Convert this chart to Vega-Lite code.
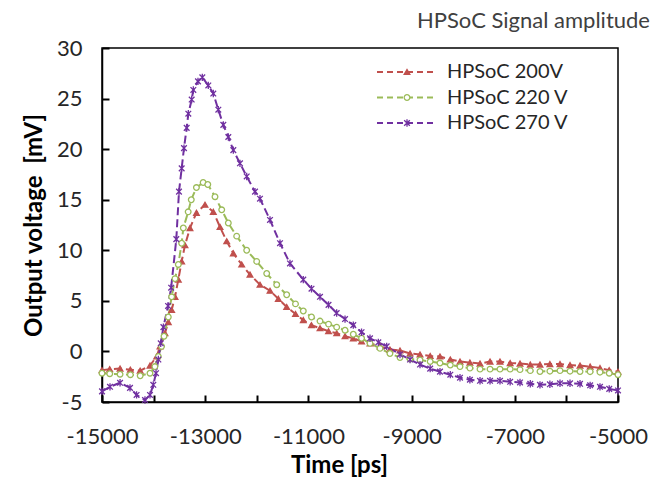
{
  "$schema": "https://vega.github.io/schema/vega-lite/v6.json",
  "autosize": "none",
  "width": 516,
  "height": 354,
  "padding": {"left": 102, "top": 48, "right": 38, "bottom": 80},
  "background": "white",
  "title": {"text": "HPSoC Signal amplitude", "anchor": "end", "frame": "group", "dx": 32, "offset": 4, "fontSize": 22, "font": "Lato", "fontWeight": "normal", "color": "#404040"},
  "config": {
    "view": {"stroke": "black", "strokeWidth": 1.5},
    "axis": {"grid": false, "domainColor": "black", "domainWidth": 1.5, "labelFont": "Lato", "labelFontSize": 22, "labelColor": "#262626", "titleFont": "Lato", "titleFontSize": 24, "titleFontWeight": "bold", "titleColor": "#000000"},
    "legend": {"labelFont": "Lato", "labelFontSize": 20, "labelColor": "#262626"}
  },
  "resolve": {"axis": {"x": "independent", "y": "independent"}},
  "data": {"values": [
    {"series":"HPSoC 200V","t":-15000,"v":-1.85},{"series":"HPSoC 200V","t":-14850,"v":-1.75},{"series":"HPSoC 200V","t":-14650,"v":-1.7},{"series":"HPSoC 200V","t":-14450,"v":-1.8},{"series":"HPSoC 200V","t":-14260,"v":-1.9},{"series":"HPSoC 200V","t":-14070,"v":-1.4},{"series":"HPSoC 200V","t":-13940,"v":-0.5},{"series":"HPSoC 200V","t":-13876,"v":0.5},{"series":"HPSoC 200V","t":-13780,"v":1.8},{"series":"HPSoC 200V","t":-13715,"v":2.9},{"series":"HPSoC 200V","t":-13650,"v":4.1},{"series":"HPSoC 200V","t":-13585,"v":5.4},{"series":"HPSoC 200V","t":-13521,"v":7.1},{"series":"HPSoC 200V","t":-13456,"v":8.9},{"series":"HPSoC 200V","t":-13392,"v":10.5},{"series":"HPSoC 200V","t":-13295,"v":12.2},{"series":"HPSoC 200V","t":-13170,"v":13.7},{"series":"HPSoC 200V","t":-13004,"v":14.5},{"series":"HPSoC 200V","t":-12843,"v":13.8},{"series":"HPSoC 200V","t":-12713,"v":12.3},{"series":"HPSoC 200V","t":-12583,"v":10.9},{"series":"HPSoC 200V","t":-12455,"v":9.7},{"series":"HPSoC 200V","t":-12293,"v":8.6},{"series":"HPSoC 200V","t":-12132,"v":7.6},{"series":"HPSoC 200V","t":-11938,"v":6.6},{"series":"HPSoC 200V","t":-11744,"v":6.0},{"series":"HPSoC 200V","t":-11583,"v":5.2},{"series":"HPSoC 200V","t":-11421,"v":4.4},{"series":"HPSoC 200V","t":-11250,"v":3.7},{"series":"HPSoC 200V","t":-11099,"v":3.1},{"series":"HPSoC 200V","t":-10940,"v":2.6},{"series":"HPSoC 200V","t":-10775,"v":2.3},{"series":"HPSoC 200V","t":-10610,"v":2.0},{"series":"HPSoC 200V","t":-10452,"v":1.8},{"series":"HPSoC 200V","t":-10290,"v":1.5},{"series":"HPSoC 200V","t":-10130,"v":1.3},{"series":"HPSoC 200V","t":-9970,"v":1.0},{"series":"HPSoC 200V","t":-9806,"v":0.8},{"series":"HPSoC 200V","t":-9612,"v":0.5},{"series":"HPSoC 200V","t":-9420,"v":0.2},{"series":"HPSoC 200V","t":-9225,"v":0.1},{"series":"HPSoC 200V","t":-9030,"v":-0.2},{"series":"HPSoC 200V","t":-8837,"v":-0.3},{"series":"HPSoC 200V","t":-8640,"v":-0.45},{"series":"HPSoC 200V","t":-8450,"v":-0.5},{"series":"HPSoC 200V","t":-8250,"v":-0.8},{"series":"HPSoC 200V","t":-8062,"v":-1.0},{"series":"HPSoC 200V","t":-7870,"v":-1.1},{"series":"HPSoC 200V","t":-7674,"v":-1.2},{"series":"HPSoC 200V","t":-7480,"v":-1.0},{"series":"HPSoC 200V","t":-7287,"v":-1.0},{"series":"HPSoC 200V","t":-7090,"v":-1.15},{"series":"HPSoC 200V","t":-6899,"v":-1.2},{"series":"HPSoC 200V","t":-6700,"v":-1.3},{"series":"HPSoC 200V","t":-6512,"v":-1.3},{"series":"HPSoC 200V","t":-6320,"v":-1.25},{"series":"HPSoC 200V","t":-6124,"v":-1.25},{"series":"HPSoC 200V","t":-5930,"v":-1.35},{"series":"HPSoC 200V","t":-5736,"v":-1.4},{"series":"HPSoC 200V","t":-5540,"v":-1.5},{"series":"HPSoC 200V","t":-5349,"v":-1.65},{"series":"HPSoC 200V","t":-5170,"v":-1.85},{"series":"HPSoC 200V","t":-5000,"v":-2.0},
    {"series":"HPSoC 220 V","t":-15000,"v":-2.15},{"series":"HPSoC 220 V","t":-14850,"v":-2.2},{"series":"HPSoC 220 V","t":-14650,"v":-2.25},{"series":"HPSoC 220 V","t":-14450,"v":-2.3},{"series":"HPSoC 220 V","t":-14260,"v":-2.4},{"series":"HPSoC 220 V","t":-14070,"v":-2.15},{"series":"HPSoC 220 V","t":-13975,"v":-1.5},{"series":"HPSoC 220 V","t":-13908,"v":-0.5},{"series":"HPSoC 220 V","t":-13845,"v":0.5},{"series":"HPSoC 220 V","t":-13798,"v":1.5},{"series":"HPSoC 220 V","t":-13715,"v":3.4},{"series":"HPSoC 220 V","t":-13650,"v":5.4},{"series":"HPSoC 220 V","t":-13585,"v":7.2},{"series":"HPSoC 220 V","t":-13521,"v":8.6},{"series":"HPSoC 220 V","t":-13456,"v":10.7},{"series":"HPSoC 220 V","t":-13424,"v":12.2},{"series":"HPSoC 220 V","t":-13330,"v":13.8},{"series":"HPSoC 220 V","t":-13270,"v":15.0},{"series":"HPSoC 220 V","t":-13170,"v":16.2},{"series":"HPSoC 220 V","t":-13040,"v":16.7},{"series":"HPSoC 220 V","t":-12950,"v":16.5},{"series":"HPSoC 220 V","t":-12810,"v":15.3},{"series":"HPSoC 220 V","t":-12680,"v":14.0},{"series":"HPSoC 220 V","t":-12552,"v":12.7},{"series":"HPSoC 220 V","t":-12390,"v":11.4},{"series":"HPSoC 220 V","t":-12196,"v":10.0},{"series":"HPSoC 220 V","t":-12002,"v":8.9},{"series":"HPSoC 220 V","t":-11808,"v":7.7},{"series":"HPSoC 220 V","t":-11614,"v":6.6},{"series":"HPSoC 220 V","t":-11421,"v":5.6},{"series":"HPSoC 220 V","t":-11250,"v":4.7},{"series":"HPSoC 220 V","t":-11099,"v":4.0},{"series":"HPSoC 220 V","t":-10940,"v":3.4},{"series":"HPSoC 220 V","t":-10775,"v":3.0},{"series":"HPSoC 220 V","t":-10610,"v":2.7},{"series":"HPSoC 220 V","t":-10452,"v":2.4},{"series":"HPSoC 220 V","t":-10290,"v":2.1},{"series":"HPSoC 220 V","t":-10130,"v":1.7},{"series":"HPSoC 220 V","t":-9970,"v":1.3},{"series":"HPSoC 220 V","t":-9806,"v":0.8},{"series":"HPSoC 220 V","t":-9612,"v":0.3},{"series":"HPSoC 220 V","t":-9420,"v":-0.2},{"series":"HPSoC 220 V","t":-9225,"v":-0.6},{"series":"HPSoC 220 V","t":-9030,"v":-0.75},{"series":"HPSoC 220 V","t":-8837,"v":-0.85},{"series":"HPSoC 220 V","t":-8640,"v":-1.0},{"series":"HPSoC 220 V","t":-8450,"v":-1.15},{"series":"HPSoC 220 V","t":-8250,"v":-1.35},{"series":"HPSoC 220 V","t":-8062,"v":-1.5},{"series":"HPSoC 220 V","t":-7870,"v":-1.65},{"series":"HPSoC 220 V","t":-7674,"v":-1.75},{"series":"HPSoC 220 V","t":-7480,"v":-1.75},{"series":"HPSoC 220 V","t":-7287,"v":-1.75},{"series":"HPSoC 220 V","t":-7090,"v":-1.75},{"series":"HPSoC 220 V","t":-6899,"v":-1.8},{"series":"HPSoC 220 V","t":-6700,"v":-1.9},{"series":"HPSoC 220 V","t":-6512,"v":-1.98},{"series":"HPSoC 220 V","t":-6320,"v":-1.95},{"series":"HPSoC 220 V","t":-6124,"v":-1.9},{"series":"HPSoC 220 V","t":-5930,"v":-1.95},{"series":"HPSoC 220 V","t":-5736,"v":-1.98},{"series":"HPSoC 220 V","t":-5540,"v":-2.0},{"series":"HPSoC 220 V","t":-5349,"v":-2.05},{"series":"HPSoC 220 V","t":-5170,"v":-2.15},{"series":"HPSoC 220 V","t":-5000,"v":-2.3},
    {"series":"HPSoC 270 V","t":-15000,"v":-3.95},{"series":"HPSoC 270 V","t":-14845,"v":-3.5},{"series":"HPSoC 270 V","t":-14650,"v":-3.1},{"series":"HPSoC 270 V","t":-14457,"v":-3.6},{"series":"HPSoC 270 V","t":-14330,"v":-4.3},{"series":"HPSoC 270 V","t":-14167,"v":-4.8},{"series":"HPSoC 270 V","t":-14070,"v":-4.3},{"series":"HPSoC 270 V","t":-14006,"v":-3.3},{"series":"HPSoC 270 V","t":-13953,"v":-2.15},{"series":"HPSoC 270 V","t":-13908,"v":-0.8},{"series":"HPSoC 270 V","t":-13862,"v":0.8},{"series":"HPSoC 270 V","t":-13810,"v":2.4},{"series":"HPSoC 270 V","t":-13720,"v":4.5},{"series":"HPSoC 270 V","t":-13660,"v":6.3},{"series":"HPSoC 270 V","t":-13560,"v":11.1},{"series":"HPSoC 270 V","t":-13508,"v":15.8},{"series":"HPSoC 270 V","t":-13456,"v":18.1},{"series":"HPSoC 270 V","t":-13411,"v":20.1},{"series":"HPSoC 270 V","t":-13359,"v":22.1},{"series":"HPSoC 270 V","t":-13327,"v":23.5},{"series":"HPSoC 270 V","t":-13262,"v":24.9},{"series":"HPSoC 270 V","t":-13230,"v":25.85},{"series":"HPSoC 270 V","t":-13140,"v":26.7},{"series":"HPSoC 270 V","t":-13056,"v":27.1},{"series":"HPSoC 270 V","t":-12940,"v":26.3},{"series":"HPSoC 270 V","t":-12843,"v":25.5},{"series":"HPSoC 270 V","t":-12746,"v":23.9},{"series":"HPSoC 270 V","t":-12649,"v":22.4},{"series":"HPSoC 270 V","t":-12552,"v":21.2},{"series":"HPSoC 270 V","t":-12455,"v":19.9},{"series":"HPSoC 270 V","t":-12326,"v":18.6},{"series":"HPSoC 270 V","t":-12196,"v":17.3},{"series":"HPSoC 270 V","t":-12035,"v":15.8},{"series":"HPSoC 270 V","t":-11938,"v":15.1},{"series":"HPSoC 270 V","t":-11744,"v":13.0},{"series":"HPSoC 270 V","t":-11550,"v":10.7},{"series":"HPSoC 270 V","t":-11357,"v":8.7},{"series":"HPSoC 270 V","t":-11099,"v":7.1},{"series":"HPSoC 270 V","t":-10940,"v":6.2},{"series":"HPSoC 270 V","t":-10775,"v":5.4},{"series":"HPSoC 270 V","t":-10610,"v":4.6},{"series":"HPSoC 270 V","t":-10452,"v":3.8},{"series":"HPSoC 270 V","t":-10290,"v":3.2},{"series":"HPSoC 270 V","t":-10130,"v":2.6},{"series":"HPSoC 270 V","t":-9970,"v":1.9},{"series":"HPSoC 270 V","t":-9806,"v":1.3},{"series":"HPSoC 270 V","t":-9645,"v":0.9},{"series":"HPSoC 270 V","t":-9483,"v":0.5},{"series":"HPSoC 270 V","t":-9225,"v":-0.3},{"series":"HPSoC 270 V","t":-9030,"v":-0.8},{"series":"HPSoC 270 V","t":-8837,"v":-1.3},{"series":"HPSoC 270 V","t":-8640,"v":-1.7},{"series":"HPSoC 270 V","t":-8450,"v":-2.0},{"series":"HPSoC 270 V","t":-8250,"v":-2.3},{"series":"HPSoC 270 V","t":-8062,"v":-2.6},{"series":"HPSoC 270 V","t":-7870,"v":-2.8},{"series":"HPSoC 270 V","t":-7674,"v":-2.9},{"series":"HPSoC 270 V","t":-7480,"v":-2.9},{"series":"HPSoC 270 V","t":-7287,"v":-2.9},{"series":"HPSoC 270 V","t":-7090,"v":-3.0},{"series":"HPSoC 270 V","t":-6899,"v":-3.07},{"series":"HPSoC 270 V","t":-6700,"v":-3.2},{"series":"HPSoC 270 V","t":-6512,"v":-3.3},{"series":"HPSoC 270 V","t":-6320,"v":-3.25},{"series":"HPSoC 270 V","t":-6124,"v":-3.15},{"series":"HPSoC 270 V","t":-5930,"v":-3.15},{"series":"HPSoC 270 V","t":-5736,"v":-3.2},{"series":"HPSoC 270 V","t":-5540,"v":-3.35},{"series":"HPSoC 270 V","t":-5349,"v":-3.5},{"series":"HPSoC 270 V","t":-5170,"v":-3.7},{"series":"HPSoC 270 V","t":-5000,"v":-3.86}
  ]},
  "layer": [
    {
      "mark": {"type": "line", "strokeWidth": 2, "strokeDash": [8, 4]},
      "encoding": {
        "x": {"field": "t", "type": "quantitative", "scale": {"domain": [-15000, -5000], "nice": false, "zero": false},
          "axis": {"title": "Time [ps]", "values": [-15000,-13000,-11000,-9000,-7000,-5000], "labelExpr": "'' + datum.value", "labelFlush": false, "tickSize": 0, "tickWidth": 0, "labelPadding": 24, "titlePadding": 6, "titleX": 237}},
        "y": {"field": "v", "type": "quantitative", "scale": {"domain": [-5, 30], "nice": false, "zero": false},
          "axis": {"title": "Output voltage\u00a0 [mV]", "values": [-5,0,5,10,15,20,25,30], "labelExpr": "'' + datum.value", "labelFlush": false, "tickSize": 0, "tickWidth": 0, "labelPadding": 20, "titlePadding": 10}},
        "color": {"field": "series", "type": "nominal",
          "scale": {"domain": ["HPSoC 200V", "HPSoC 220 V", "HPSoC 270 V"], "range": ["#C0504D", "#9BBB59", "#7030A0"]},
          "legend": {"title": null, "orient": "none", "legendX": 274, "legendY": 14, "symbolType": "stroke", "symbolSize": 3249, "symbolStrokeWidth": 2, "symbolDash": [6, 4], "labelOffset": 12, "clipHeight": 20, "rowPadding": 5.5}}
      }
    },
    {
      "mark": {"type": "point", "size": 32, "strokeWidth": 1.3, "opacity": 1},
      "encoding": {
        "x": {"field": "t", "type": "quantitative",
          "axis": {"orient": "top", "offset": -354, "title": null, "labels": false, "domain": false, "tickSize": 7, "tickColor": "black", "tickWidth": 2, "zindex": 1, "values": [-15000,-14000,-13000,-12000,-11000,-10000,-9000,-8000,-7000,-6000,-5000]}},
        "y": {"field": "v", "type": "quantitative",
          "axis": {"orient": "right", "offset": -516, "title": null, "labels": false, "domain": false, "tickSize": 7, "tickColor": "black", "tickWidth": 2, "zindex": 1, "values": [-5,0,5,10,15,20,25,30]}},
        "stroke": {"field": "series", "type": "nominal", "scale": {"range": ["#C0504D", "#9BBB59", "#7030A0"]},
          "legend": {"title": null, "orient": "none", "legendX": 295, "legendY": 14, "symbolSize": 32, "symbolStrokeWidth": 1.3, "labelExpr": "''", "labelOffset": 12, "clipHeight": 20, "rowPadding": 5.5}},
        "fill": {"field": "series", "type": "nominal", "scale": {"range": ["#C0504D", "#ffffff", "#7030A0"]}},
        "shape": {"field": "series", "type": "nominal", "scale": {"range": ["triangle-up", "circle", "M-1,-1L1,1M-1,1L1,-1M0,-1.3L0,1.3"]}}
      }
    }
  ]
}
